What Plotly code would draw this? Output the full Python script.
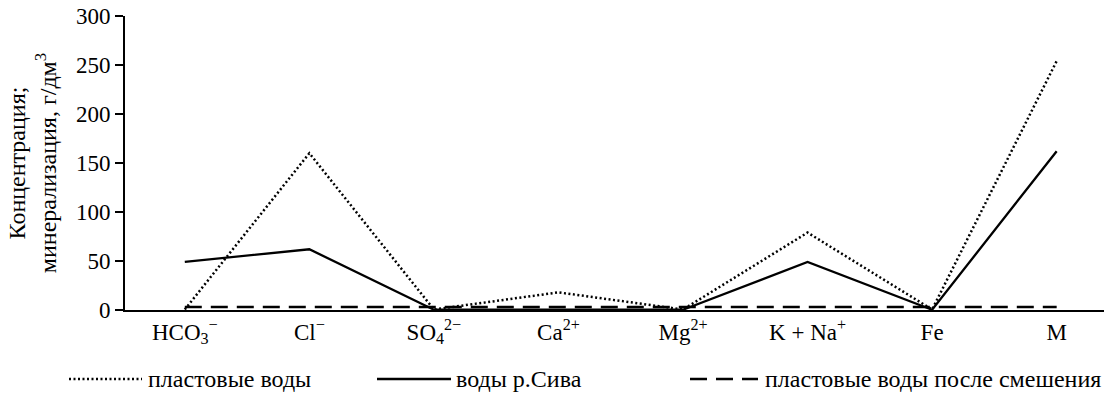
import plotly.graph_objects as go

categories = ["HCO<sub>3</sub><sup>−</sup>", "Cl<sup>−</sup>", "SO<sub>4</sub><sup>2−</sup>", "Ca<sup>2+</sup>",
              "Mg<sup>2+</sup>", "K + Na<sup>+</sup>", "Fe", "M"]
plast = [0.5, 160, 0.5, 18, 0.5, 79, 0.5, 254]
siva = [49, 62, 0.3, 0.3, 0.3, 49, 0.3, 162]
mixed = [3, 3, 3, 3, 3, 3, 3, 3]
series_names = ["пластовые воды", "воды р.Сива", "пластовые воды после смешения"]
x_idx = list(range(len(categories)))

FONT = "Liberation Serif"
styles = [dict(color="black", width=2.5, dash="2px,2.5px"),
          dict(color="black", width=2.3),
          dict(color="black", width=2.5, dash="17px,9px")]

fig = go.Figure()
for vals, name, st in zip([plast, siva, mixed], series_names, styles):
    fig.add_trace(go.Scatter(x=x_idx, y=vals, mode="lines", name=name, line=st,
                             showlegend=False))

W, H = 1104, 403
ml, mr, mt, mb = 125, 0, 16, 93
pw, ph = W - ml - mr, H - mt - mb
def px(x):
    return (x - ml) / pw
def py(y):
    return (H - mb - y) / ph

# legend: sample line start/end and label start (page pixels)
legend_items = [(69, 142, 146), (377, 451, 454), (690, 758, 763)]
leg_y = 379
for (x0, x1, xt), name, st in zip(legend_items, series_names, styles):
    fig.add_shape(type="line", xref="paper", yref="paper",
                  x0=px(x0), x1=px(x1), y0=py(leg_y), y1=py(leg_y),
                  line=st)
    fig.add_annotation(xref="paper", yref="paper", x=px(xt), y=py(leg_y),
                       xanchor="left", yanchor="middle", text=name, showarrow=False,
                       font=dict(family=FONT, size=24, color="black"))

fig.update_layout(
    width=W, height=H,
    margin=dict(l=ml, r=mr, t=mt, b=mb),
    plot_bgcolor="white", paper_bgcolor="white",
    font=dict(family=FONT, size=22, color="black"),
)
fig.update_xaxes(
    range=[-0.48, 7.38], tickvals=x_idx, ticktext=categories,
    showline=True, linecolor="black", linewidth=2, showgrid=False, zeroline=False,
    ticks="", tickfont=dict(family=FONT, size=23), automargin=False,
)
fig.update_yaxes(
    range=[0, 300], tickvals=[0, 50, 100, 150, 200, 250, 300],
    showline=True, linecolor="black", linewidth=2, showgrid=False, zeroline=False,
    ticks="outside", ticklen=8, tickwidth=2, tickcolor="black",
    tickfont=dict(family=FONT, size=23), automargin=False, ticklabeloverflow="allow",
    title=dict(text="Концентрация;<br>минерализация, г/дм<sup>3</sup>",
               font=dict(family=FONT, size=24), standoff=12),
)

fig.write_html("out.html", config={"displayModeBar": False},
               post_script="document.body.style.margin='0px';")
